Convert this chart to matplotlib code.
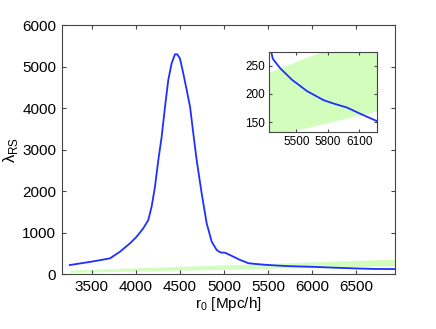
import numpy as np
import matplotlib
matplotlib.use("Agg")
import matplotlib.pyplot as plt

plt.rcParams['font.family'] = ['Liberation Sans', 'DejaVu Sans']
plt.rcParams['mathtext.fontset'] = 'custom'
plt.rcParams['mathtext.rm'] = 'Liberation Sans'

# lambda_RS curve (blue)
r0 = [3250, 3500, 3705, 3818, 3932, 4008, 4083, 4140, 4178, 4216, 4254, 4292,
      4330, 4367, 4405, 4443, 4469, 4500, 4538, 4576, 4614, 4651, 4689, 4746,
      4803, 4860, 4917, 4960, 5011, 5106, 5182, 5276, 5348, 5459, 5602, 5760,
      5856, 5983, 6110, 6269, 6500, 6700, 6940]
lam = [217, 300, 378, 537, 739, 900, 1101, 1300, 1622, 2104, 2747, 3309,
       4032, 4675, 5077, 5294, 5294, 5191, 4829, 4434, 4032, 3390, 2747, 1944,
       1221, 779, 578, 520, 514, 418, 340, 262, 245, 225, 205, 189,
       183, 176, 165, 152, 135, 124, 120]

# green band (lower / upper bounds)
band_x = [3250, 5250, 6940]
band_lo = [40, 125, 200]
band_hi = [95, 239, 362]

blue = '#1f2fff'
green = '#d2fdbd'

fig = plt.figure(figsize=(4.36, 3.29), dpi=100)
ax = fig.add_axes([0.142, 0.167, 0.764, 0.757])
ax.fill_between(band_x, band_lo, band_hi, color=green, lw=0)
ax.plot(r0, lam, color=blue, lw=1.3)
ax.set_xlim(3160, 6940)
ax.set_ylim(0, 6000)
ax.set_xticks([3500, 4000, 4500, 5000, 5500, 6000, 6500])
ax.set_yticks([0, 1000, 2000, 3000, 4000, 5000, 6000])
ax.tick_params(direction='in', top=True, right=True, labelsize=11, length=3,
               color='#444444', pad=4)
for s in ax.spines.values():
    s.set_color('#444444')
    s.set_linewidth(0.8)
ax.set_xlabel(r'r$_0$ [Mpc/h]', fontsize=11, labelpad=1)
ax.set_ylabel(u'\u03bb$_{\\mathrm{RS}}$', fontsize=12, labelpad=2)

ins = fig.add_axes([0.617, 0.599, 0.248, 0.243])
ins.fill_between(band_x, band_lo, band_hi, color=green, lw=0)
ins.plot(r0, lam, color=blue, lw=1.3)
ins.set_xlim(5240, 6270)
ins.set_ylim(133, 274)
ins.set_xticks([5500, 5800, 6100])
ins.set_yticks([150, 200, 250])
ins.tick_params(direction='in', top=True, right=True, labelsize=8.5, length=2,
                color='#444444', pad=3)
for s in ins.spines.values():
    s.set_color('#444444')
    s.set_linewidth(0.8)

fig.savefig('out.png', dpi=100)
